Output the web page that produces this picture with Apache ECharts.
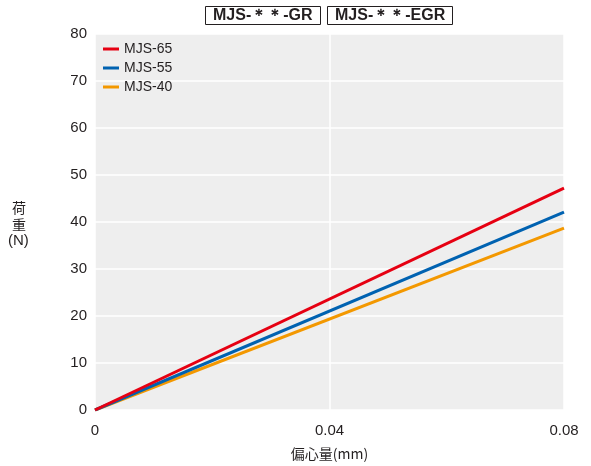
<!DOCTYPE html>
<html><head><meta charset="utf-8">
<script src="https://cdn.jsdelivr.net/npm/echarts@6/dist/echarts.min.js"></script>
<style>html,body{margin:0;padding:0;background:#fff}#c{width:591px;height:466px}</style>
</head><body><div id="c"></div>
<script>
const xValues = [0, 0.08];
const mjs65 = [0, 47.2];
const mjs55 = [0, 42.1];
const mjs40 = [0, 38.7];
const seriesNames = ['MJS-65', 'MJS-55', 'MJS-40'];
const seriesColors = ['#e60012', '#0062b1', '#f39800'];
const xTicks = [0, 0.04, 0.08];
const yTicks = [0, 10, 20, 30, 40, 50, 60, 70, 80];

const font = '"Liberation Sans", Arial, sans-serif';
const cjk = '"Noto Sans CJK JP", sans-serif';
const chart = echarts.init(document.getElementById('c'));
const mk = (name, vals, color, z) => ({
  name, type: 'line', data: xValues.map((x, i) => [x, vals[i]]),
  symbol: 'none', lineStyle: { color, width: 3 }, itemStyle: { color }, z, silent: true
});
chart.setOption({
  animation: false,
  title: [
    { text: 'MJS-＊＊-GR', left: 205, top: 6, padding: [2, 8, 1, 8], borderWidth: 1, borderColor: '#231f20',
      textStyle: { fontFamily: font, fontWeight: 'bold', fontSize: 16, color: '#231f20' } },
    { text: 'MJS-＊＊-EGR', left: 327, top: 6, padding: [2, 8, 1, 8], borderWidth: 1, borderColor: '#231f20',
      textStyle: { fontFamily: font, fontWeight: 'bold', fontSize: 16, color: '#231f20' } }
  ],
  grid: { left: 95, right: 27, top: 34, bottom: 54, show: true, backgroundColor: '#eeeeee', borderWidth: 0 },
  legend: {
    data: seriesNames, orient: 'vertical', left: 98, top: 37, itemGap: 5,
    itemWidth: 16, itemHeight: 3, icon: 'rect',
    textStyle: { fontFamily: font, fontSize: 14, color: '#231f20', padding: [0, 0, 0, 0] }
  },
  xAxis: {
    type: 'value', min: 0, max: 0.08, interval: 0.04,
    axisLine: { show: false }, axisTick: { show: false },
    axisLabel: { margin: 13, fontFamily: font, fontSize: 15, color: '#231f20',
      formatter: v => xTicks.includes(+v.toFixed(2)) ? String(+v.toFixed(2)) : '' },
    splitLine: { show: true, lineStyle: { color: '#ffffff', width: 1.5 } },
    name: '偏心量(mm)', nameLocation: 'middle', nameGap: 37,
    nameTextStyle: { fontFamily: cjk, fontSize: 14, color: '#231f20' }
  },
  yAxis: {
    type: 'value', min: 0, max: 80, interval: 10,
    axisLine: { show: false }, axisTick: { show: false },
    axisLabel: { margin: 8, fontFamily: font, fontSize: 15, color: '#231f20',
      formatter: v => yTicks.includes(v) ? String(v) : '' },
    splitLine: { show: true, lineStyle: { color: '#ffffff', width: 1.5 } }
  },
  graphic: [
    { type: 'text', left: 12, top: 199, style: { text: '荷\n重', font: '14px "Noto Sans CJK JP"', fill: '#231f20', lineHeight: 17, align: 'center' } },
    { type: 'text', left: 8, top: 233, style: { text: '(N)', font: '15px "Liberation Sans"', fill: '#231f20' } }
  ],
  series: [
    mk(seriesNames[2], mjs40, seriesColors[2], 2),
    mk(seriesNames[1], mjs55, seriesColors[1], 3),
    mk(seriesNames[0], mjs65, seriesColors[0], 4)
  ]
});
</script></body></html>
